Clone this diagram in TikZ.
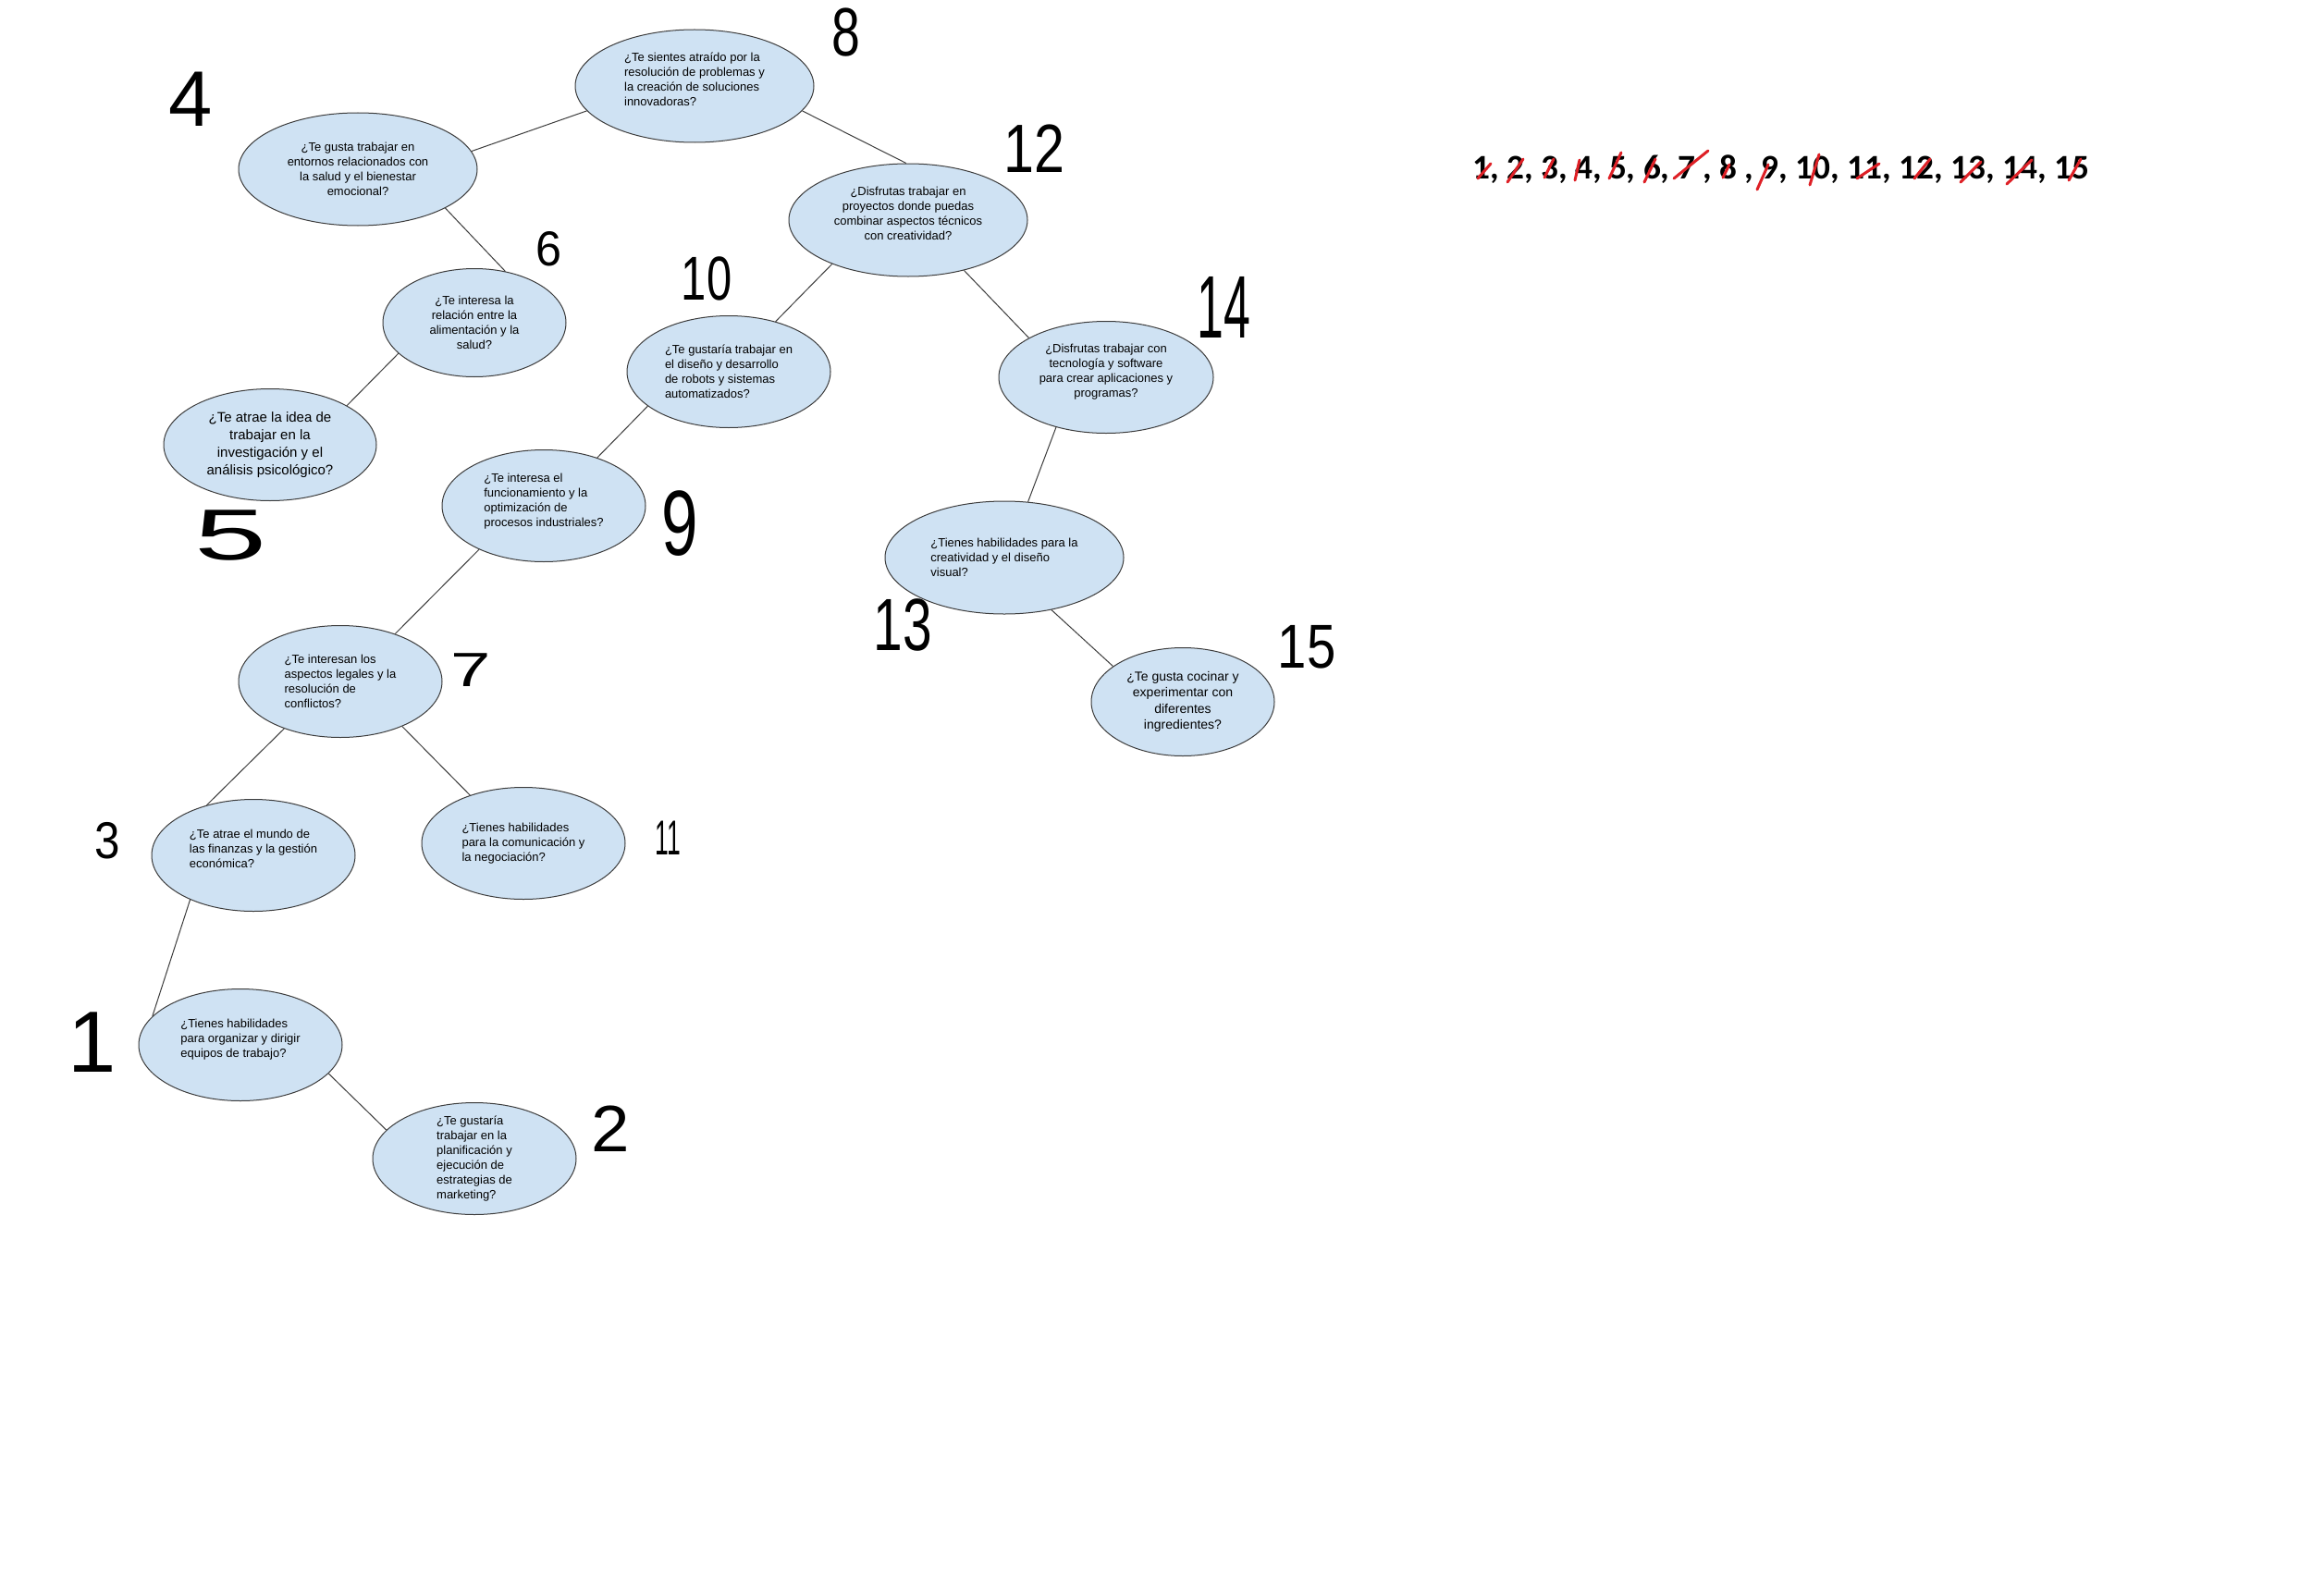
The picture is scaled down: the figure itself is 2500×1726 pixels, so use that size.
\documentclass[tikz,border=0pt]{standalone}
\usepackage{fontspec}
\setmainfont{Liberation Sans}
\newfontfamily\listfont{Carlito}
\usepackage{tikz}
\usetikzlibrary{shapes.geometric}
\definecolor{qblue}{RGB}{207,226,243}
\definecolor{qline}{RGB}{60,60,60}
\definecolor{penred}{RGB}{222,32,38}
\tikzset{
  question/.style={ellipse,draw=qline,line width=1pt,fill=qblue,
    inner sep=0pt,align=center,font=\fontsize{13pt}{16pt}\selectfont},
  qwide/.style={minimum width=258pt,minimum height=122pt},
  qmid/.style={minimum width=220pt,minimum height=121pt},
  qsmall/.style={minimum width=198pt,minimum height=117pt},
  link/.style={draw=qline,line width=1pt},
  hand/.style={inner sep=0pt,font=\fontsize{#1pt}{#1pt}\selectfont},
  strike/.style={draw=penred,line width=3pt,line cap=round},
  checklist/.style={inner sep=0pt,anchor=base west,
    font=\listfont\bfseries\fontsize{37.3pt}{38pt}\selectfont}
}

\begin{document}
\begin{tikzpicture}[x=1pt,y=-1pt]
  \useasboundingbox (0,0) rectangle (2500,1726);
  \fill[white] (0,0) rectangle (2500,1726);

  % questions
  \node[question,qwide,align=left,text depth=15pt] (e8) at (751,93) {
    ¿Te sientes atraído por la\\resolución de problemas y\\
    la creación de soluciones\\innovadoras?};
  \node[question,qwide] (e4) at (387,183) {
    ¿Te gusta trabajar en\\entornos relacionados con\\
    la salud y el bienestar\\emocional?};
  \node[question,qwide,text depth=15pt] (e12) at (982,238) {
    ¿Disfrutas trabajar en\\proyectos donde puedas\\
    combinar aspectos técnicos\\con creatividad?};
  \node[question,qsmall] (e6) at (513,349) {
    ¿Te interesa la\\relación entre la\\alimentación y la\\salud?};
  \node[question,qmid,align=left] (e10) at (788,402) {
    ¿Te gustaría trabajar en\\el diseño y desarrollo\\
    de robots y sistemas\\automatizados?};
  \node[question,qmid,minimum width=232pt,text depth=15pt]
    (e14) at (1196,408) {
    ¿Disfrutas trabajar con\\tecnología y software\\
    para crear aplicaciones y\\programas?};
  \node[question,qmid,minimum width=230pt,
    font=\fontsize{15pt}{19pt}\selectfont] (e5) at (292,481) {
    ¿Te atrae la idea de\\trabajar en la\\investigación y el\\
    análisis psicológico?};
  \node[question,qmid,align=left,text depth=13pt] (e9) at (588,547) {
    ¿Te interesa el\\funcionamiento y la\\optimización de\\
    procesos industriales?};
  \node[question,qwide,align=left] (e13) at (1086,603) {
    ¿Tienes habilidades para la\\creatividad y el diseño\\visual?};
  \node[question,qmid,align=left] (e7) at (368,737) {
    ¿Te interesan los\\aspectos legales y la\\resolución de\\conflictos?};
  \node[question,qsmall,font=\fontsize{14pt}{17.5pt}\selectfont]
    (e15) at (1279,759) {
    ¿Te gusta cocinar y\\experimentar con\\diferentes\\ingredientes?};
  \node[question,qmid,align=left,text depth=15pt] (e3) at (274,925) {
    ¿Te atrae el mundo de\\las finanzas y la gestión\\económica?};
  \node[question,qmid,align=left] (e11) at (566,912) {
    ¿Tienes habilidades\\para la comunicación y\\la negociación?};
  \node[question,qmid,align=left,text depth=15pt] (e1) at (260,1130) {
    ¿Tienes habilidades\\para organizar y dirigir\\equipos de trabajo?};
  \node[question,qmid,align=left,inner ysep=-5pt] (e2) at (513,1253) {
    ¿Te gustaría\\trabajar en la\\planificación y\\ejecución de\\
    estrategias de\\marketing?};

  % tree links
  \draw[link] (e8.193) -- (e4.9);
  \draw[link] (e8.347) -- (e12.92);
  \draw[link] (e4.336) -- (e6.59);
  \draw[link] (e6.202) -- (e5.27);
  \draw[link] (e12.210) -- (e10.47);
  \draw[link] (e12.318) -- (e14.153);
  \draw[link] (e10.203) -- (e9.42);
  \draw[link] (e14.225) -- (e13.67);
  \draw[link] (e9.214) -- (e7.41);
  \draw[link] (e13.312) -- (e15.153);
  \draw[link] (e7.220) -- (e3.133);
  \draw[link] (e7.324) -- (e11.138);
  \draw[link] (e3.215) -- (e1.162);
  \draw[link] (e1.342) -- (e2.162);

  % handwritten order
  \node[hand=85] (n4) at (206,107) {4};
  \node[hand=74] (n8) at (915,35) {\scalebox{0.75}[1]{8}};
  \node[hand=74] (n12) at (1118,161) {\scalebox{0.8}[1]{12}};
  \node[hand=53] (n6) at (593,269) {\scalebox{0.95}[1]{6}};
  \node[hand=67] (n10) at (764,301) {\scalebox{0.73}[1]{10}};
  \node[hand=96] (n14) at (1323,332) {\scalebox{0.54}[1]{14}};
  \node[hand=78] (n5) at (250,579) {\scalebox{1.8}[1]{5}};
  \node[hand=100] (n9) at (735,566) {\scalebox{0.71}[1]{9}};
  \node[hand=80] (n13) at (976,676) {\scalebox{0.71}[1]{13}};
  \node[hand=52] (n7) at (509,725) {\scalebox{1.5}[1]{7}};
  \node[hand=67] (n15) at (1413,700) {\scalebox{0.84}[1]{15}};
  \node[hand=56] (n3) at (116,909) {\scalebox{0.88}[1]{3}};
  \node[hand=53] (n11) at (722,906) {\scalebox{0.5}[1]{11}};
  \node[hand=94] (n1) at (100,1127) {1};
  \node[hand=71] (n2) at (660,1221) {\scalebox{1.05}[1]{2}};

  % checked list
  \node[checklist] (list) at (1592,193) {
    1, 2, 3, 4, 5, 6, 7 , 8 , 9, 10, 11, 12, 13, 14, 15};
  \foreach \xa/\ya/\xb/\yb in {1598/193/1612/177,1630/197/1647/172,
      1670/192/1680/172,1703/195/1708/173,1740/193/1753/165,
      1778/197/1790/172,1810/193/1847/163,1863/192/1870/178,
      1900/205/1912/178,1957/200/1967/167,2008/193/2032/177,
      2070/193/2087/172,2120/197/2142/175,2170/199/2197/173,
      2237/195/2250/172}
    \draw[strike] (\xa,\ya) -- (\xb,\yb);
\end{tikzpicture}
\end{document}
